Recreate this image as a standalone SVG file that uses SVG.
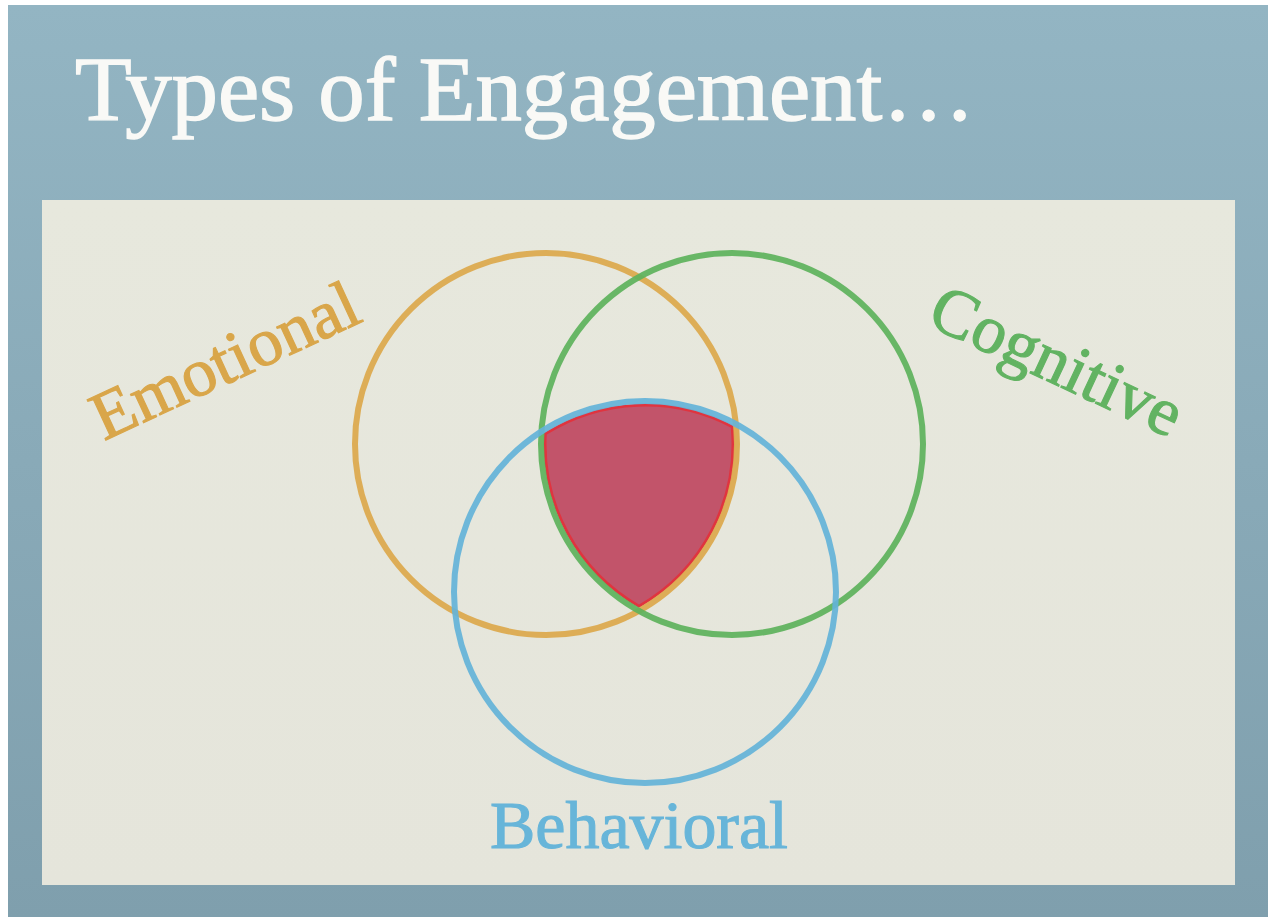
<svg xmlns="http://www.w3.org/2000/svg" width="1268" height="917" viewBox="0 0 1268 917">
  <defs>
    <linearGradient id="bg" x1="0" y1="0" x2="0" y2="1">
      <stop offset="0" stop-color="#93b5c3"/>
      <stop offset="1" stop-color="#7f9fad"/>
    </linearGradient>
    <linearGradient id="panel" x1="0" y1="0" x2="0" y2="1">
      <stop offset="0" stop-color="#e7e8dd"/>
      <stop offset="1" stop-color="#e5e5db"/>
    </linearGradient>
  </defs>
  <style>
    .ring { fill: none; stroke-width: 6; opacity: 0.92; }
    .label { font-family: "Liberation Serif", "Times New Roman", serif; font-size: 68px; stroke-width: 1.1; }
    .title { font-family: "Liberation Serif", "Times New Roman", serif; font-size: 91px; fill: #f9f9f6; stroke: #f9f9f6; stroke-width: 1.4; }
  </style>
  <rect x="0" y="0" width="1268" height="917" fill="#ffffff"/>
  <rect x="8" y="5" width="1260" height="912" fill="url(#bg)"/>
  <rect x="42" y="200" width="1193" height="685" fill="url(#panel)"/>
  <text class="title" x="75" y="120" textLength="900" lengthAdjust="spacingAndGlyphs">Types of Engagement…</text>

  <g id="intersection">
    <path d="M 545.3 433.8 A 187 187 0 0 1 732.2 426.6 A 187 187 0 0 1 639 606.2 A 187 187 0 0 1 545.3 433.8 Z" fill="#c2546a" stroke="#e0343f" stroke-width="3" stroke-linejoin="round"/>
  </g>

  <g id="emotional">
    <circle class="ring" cx="546" cy="444" r="191" stroke="#dca84b"/>
    <text class="label" fill="#d9a64a" stroke="#d9a64a" transform="translate(104,441) rotate(-24.8)" textLength="287" lengthAdjust="spacingAndGlyphs">Emotional</text>
  </g>
  <g id="cognitive">
    <circle class="ring" cx="732" cy="444" r="191" stroke="#5db25b"/>
    <text class="label" fill="#62b362" stroke="#62b362" transform="translate(925,324) rotate(25)" textLength="270" lengthAdjust="spacingAndGlyphs">Cognitive</text>
  </g>
  <g id="behavioral">
    <circle class="ring" cx="645" cy="592" r="191" stroke="#64b3d8"/>
    <text class="label" fill="#67b5d9" stroke="#67b5d9" x="490" y="848" textLength="298" lengthAdjust="spacingAndGlyphs">Behavioral</text>
  </g>
  <g id="connectors"/>
</svg>
